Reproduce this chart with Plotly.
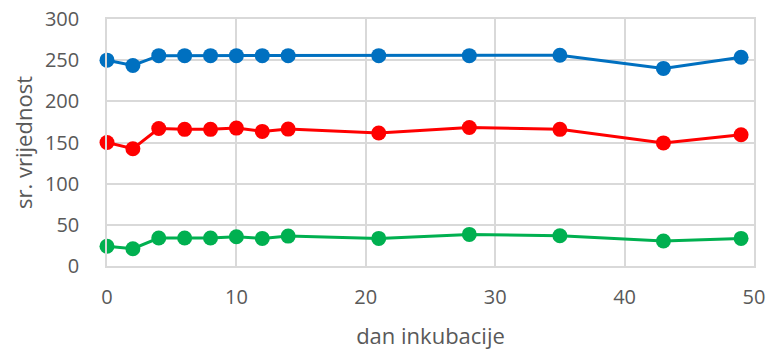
import plotly.graph_objects as go

# Incubation days
dani = [0, 2, 4, 6, 8, 10, 12, 14, 21, 28, 35, 43, 49]

# Mean values per series
plava = [250, 243.5, 255.5, 255.5, 255.5, 255.5, 255.5, 255.5, 255.5, 255.5, 256, 240, 253.5]
crvena = [150, 142.5, 167, 166, 166, 167.5, 163.5, 166.3, 161.5, 168.3, 166, 149.5, 159.5]
zelena = [24, 21, 34, 34, 34, 35.5, 33.5, 36.3, 33.5, 38.4, 36.8, 30.3, 33.5]

x_ticks = [0, 10, 20, 30, 40, 50]
y_ticks = [0, 50, 100, 150, 200, 250, 300]

serije = [
    ("serija A", plava, "#0070C0"),
    ("serija B", crvena, "#FF0000"),
    ("serija C", zelena, "#00B050"),
]

fig = go.Figure()
for ime, vrijednosti, boja in serije:
    fig.add_trace(go.Scatter(
        x=dani, y=vrijednosti, name=ime, mode="lines+markers",
        line=dict(color=boja, width=3),
        marker=dict(color=boja, size=15),
        cliponaxis=False,
    ))

tick_font = dict(family="Open Sans", size=20, color="#595959")
title_font = dict(family="Open Sans", size=22, color="#595959")
grid = "#D9D9D9"

fig.update_layout(
    width=769, height=352,
    margin=dict(l=107, r=15, t=19, b=86),
    paper_bgcolor="white", plot_bgcolor="white",
    showlegend=False,
    font=tick_font,
    xaxis=dict(
        range=[0, 50], tickvals=x_ticks, showgrid=True, gridcolor=grid, gridwidth=1.5,
        zeroline=False, showline=True, linecolor=grid, linewidth=1.5, mirror=True,
        ticks="outside", ticklen=12, tickcolor="rgba(0,0,0,0)",
        tickfont=tick_font, automargin=False,
        title=dict(text="dan inkubacije", font=title_font, standoff=20),
    ),
    yaxis=dict(
        range=[0, 300], tickvals=y_ticks, showgrid=True, gridcolor=grid, gridwidth=1.5,
        zeroline=False, showline=True, linecolor=grid, linewidth=1.5, mirror=True,
        ticks="outside", ticklen=22, tickcolor="rgba(0,0,0,0)",
        tickfont=tick_font, automargin=False,
        title=dict(text="sr. vrijednost", font=title_font, standoff=6),
    ),
)

fig.write_html("out.html")
